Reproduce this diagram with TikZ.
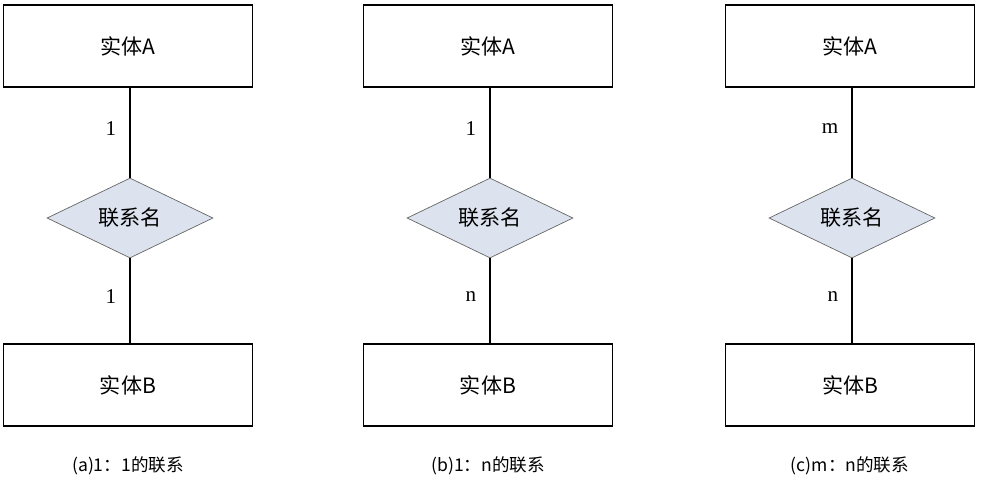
\documentclass[tikz,border=0pt]{standalone}
\usepackage{fontspec}
\setmainfont{Liberation Serif}
\newfontfamily\cjk{Noto Sans CJK SC}
\usetikzlibrary{shapes.geometric}
\definecolor{relfill}{HTML}{DCE3EE}
\begin{document}
\begin{tikzpicture}[x=0.02cm,y=-0.02cm,
  ent/.style={draw,line width=0.8pt,minimum width=4.98cm,minimum height=1.64cm,font=\cjk\large},
  rel/.style={draw=gray!80!black,fill=relfill,diamond,aspect=2.1,minimum width=3.32cm,minimum height=1.6cm,inner sep=0pt,font=\cjk\large},
  lnk/.style={line width=1pt},
  card/.style={font=\large},
  captext/.style={font=\cjk}]
\useasboundingbox (0,0) rectangle (989,485);
\foreach \c/\x/\la/\lb/\t in {a/128/1/1/{(a)1：1的联系},b/488/1/n/{(b)1：n的联系},c/850/m/n/{(c)m：n的联系}}{
  \node[ent] (A\c) at (\x,46) {实体A};
  \node[rel] (R\c) at (\x+2,218) {联系名};
  \node[ent] (B\c) at (\x,385) {实体B};
  \draw[lnk] (A\c.south -| R\c) -- node[card,left=4pt,pos=0.45]{\la} (R\c.north);
  \draw[lnk] (R\c.south) -- node[card,left=4pt,pos=0.45]{\lb} (B\c.north -| R\c);
  \node[captext] (C\c) at (\x,466) {\t};
}
\end{tikzpicture}
\end{document}
